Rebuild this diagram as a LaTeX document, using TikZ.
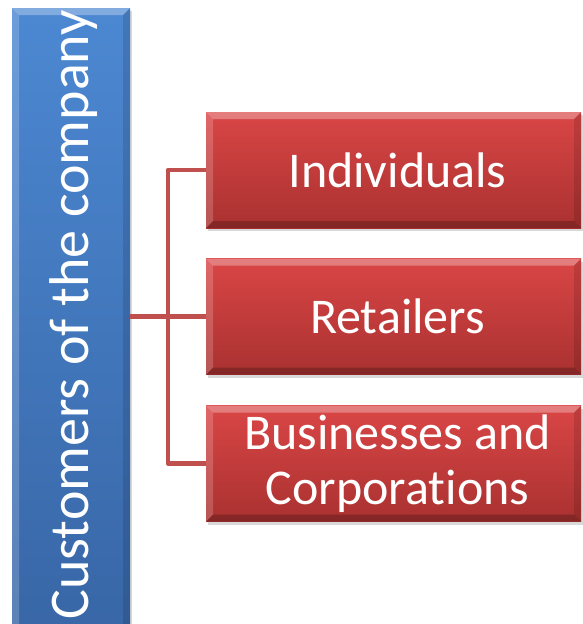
\documentclass[tikz,border=0pt]{standalone}
\usepackage{fontspec}
\setmainfont[Ligatures=NoCommon]{Carlito}
\usetikzlibrary{shadows}
\definecolor{linkred}{HTML}{C0504D}
\definecolor{redtop}{HTML}{DA4646}
\definecolor{redbot}{HTML}{A93130}
\definecolor{bluetop}{HTML}{4C88D2}
\definecolor{bluebot}{HTML}{3866A6}
\begin{document}
\begin{tikzpicture}[x=1pt,y=-1pt,
  bevel/.style={path picture={
    \coordinate (nw) at (path picture bounding box.north west);
    \coordinate (ne) at (path picture bounding box.north east);
    \coordinate (sw) at (path picture bounding box.south west);
    \coordinate (se) at (path picture bounding box.south east);
    \fill[white,opacity=.30] (nw) -- (ne) -- ([xshift=-7pt,yshift=-7pt]ne) -- ([xshift=7pt,yshift=-7pt]nw) -- cycle;
    \fill[white,opacity=.18] (nw) -- ([xshift=7pt,yshift=-7pt]nw) -- ([xshift=7pt,yshift=7pt]sw) -- (sw) -- cycle;
    \fill[black,opacity=.22] (sw) -- (se) -- ([xshift=-7pt,yshift=7pt]se) -- ([xshift=7pt,yshift=7pt]sw) -- cycle;
    \fill[black,opacity=.12] (ne) -- (se) -- ([xshift=-7pt,yshift=7pt]se) -- ([xshift=-7pt,yshift=-7pt]ne) -- cycle;
  }},
  redbox/.style={bevel, top color=redtop, bottom color=redbot, draw=none,
    minimum width=375pt, minimum height=116pt, inner sep=0pt,
    text=white, align=center, font=\fontsize{50}{55}\selectfont,
    drop shadow={opacity=0.3, shadow xshift=2pt, shadow yshift=-3pt}},
  bluebox/.style={bevel, top color=bluetop, bottom color=bluebot, draw=none,
    minimum width=118pt, minimum height=632pt, inner sep=0pt,
    drop shadow={opacity=0.3, shadow xshift=2pt, shadow yshift=-3pt}},
  conn/.style={draw=linkred, line width=4.5pt, line join=round}]
\useasboundingbox (0,0) rectangle (583,624);
\clip (0,0) rectangle (583,624);
\fill[white] (0,0) rectangle (583,624);
\node[bluebox] (custbox) at (71,324) {};
\node[rotate=90, text=white, font=\fontsize{56}{60}\selectfont, inner sep=0pt] (custtext) at (74,315) {Customers of the company};
\node[redbox] (ind) at (393.5,170) {\hspace*{8pt}Individuals};
\node[redbox] (ret) at (393.5,316.5) {\hspace*{8pt}Retailers};
\node[redbox] (biz) at (393.5,463.5) {\hspace*{8pt}Businesses and\\\hspace*{8pt}Corporations};
\draw[conn] (ind.west) -- ++(-38,0) |- (biz.west);
\draw[conn] (custbox.east |- ret.west) -- (ret.west);
\end{tikzpicture}
\end{document}
